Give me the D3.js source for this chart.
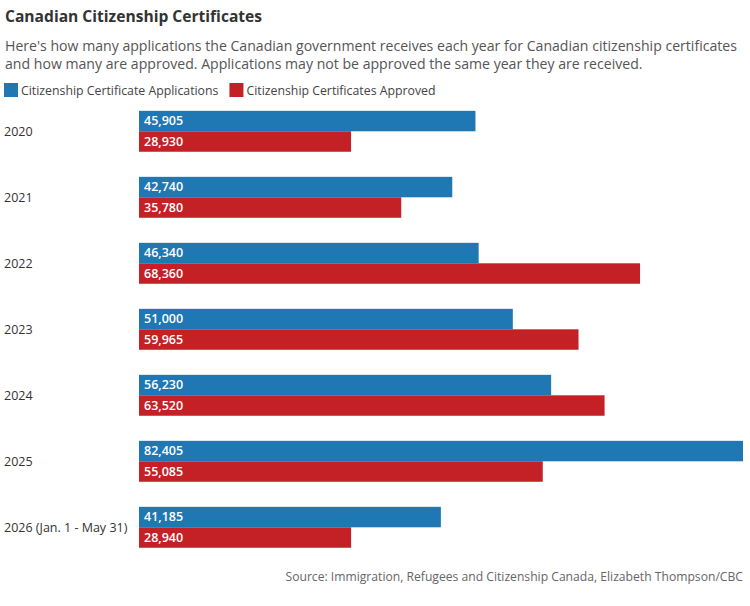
<!DOCTYPE html>
<html>
<head>
<meta charset="utf-8">
<script src="https://cdn.jsdelivr.net/npm/d3@7"></script>
<style>
  body { margin: 0; background: #fff; }
  text { font-family: "Open Sans", "Noto Sans", sans-serif; }
</style>
</head>
<body>
<svg id="chart" width="750" height="606"></svg>
<script>
// data
var years = ['2020', '2021', '2022', '2023', '2024', '2025', '2026 (Jan. 1 - May 31)'];
var applications = [45905, 42740, 46340, 51000, 56230, 82405, 41185];
var approved = [28930, 35780, 68360, 59965, 63520, 55085, 28940];
var seriesNames = ['Citizenship Certificate Applications', 'Citizenship Certificates Approved'];
var seriesColors = ['#1f77b4', '#c42127'];

var svg = d3.select('#chart');
var fmt = d3.format(',');

svg.append('text')
    .attr('x', 5).attr('y', 22)
    .attr('font-size', 15.6).attr('font-weight', 'bold').attr('fill', '#333')
    .text('Canadian Citizenship Certificates');

var sub = ['Here\'s how many applications the Canadian government receives each year for Canadian citizenship certificates',
  'and how many are approved. Applications may not be approved the same year they are received.'];
svg.selectAll('.sub').data(sub).enter().append('text')
    .attr('class', 'sub')
    .attr('x', 5).attr('y', function (d, i) { return 51 + i * 18; })
    .attr('font-size', 14.1).attr('fill', '#555')
    .text(function (d) { return d; });

// legend
var legend = svg.append('g').attr('transform', 'translate(4,83)');
var lx = 0;
seriesNames.forEach(function (name, i) {
  var g = legend.append('g').attr('transform', 'translate(' + lx + ',0)');
  g.append('rect').attr('width', 14).attr('height', 14).attr('fill', seriesColors[i]);
  var t = g.append('text').attr('x', 17).attr('y', 11.5)
      .attr('font-size', 12.3).attr('fill', '#444').text(name);
  lx += 17 + t.node().getComputedTextLength() + 11;
});

var x = d3.scaleLinear().domain([0, 82405]).range([139, 743]);
var y = d3.scaleBand().domain(years).range([98.3, 98.3 + 7 * 66])
    .paddingInner(0.38).paddingOuter(0.19);
var sy = d3.scaleBand().domain([0, 1]).range([0, y.bandwidth()]);

var rows = years.map(function (yr, i) {
  return { year: yr, values: [applications[i], approved[i]] };
});

var group = svg.selectAll('.grp').data(rows).enter().append('g')
    .attr('class', 'grp')
    .attr('transform', function (d) { return 'translate(0,' + y(d.year) + ')'; });

group.selectAll('rect').data(function (d) { return d.values; }).enter().append('rect')
    .attr('x', x(0))
    .attr('y', function (d, i) { return sy(i); })
    .attr('width', function (d) { return x(d) - x(0); })
    .attr('height', sy.bandwidth())
    .attr('fill', function (d, i) { return seriesColors[i]; });

group.selectAll('.val').data(function (d) { return d.values; }).enter().append('text')
    .attr('class', 'val')
    .attr('x', x(0) + 5)
    .attr('y', function (d, i) { return sy(i) + sy.bandwidth() / 2; })
    .attr('dy', '0.35em')
    .attr('font-size', 12.5).attr('font-weight', 600).attr('fill', '#fff')
    .text(function (d) { return fmt(d); });

group.append('text')
    .attr('x', 4).attr('y', y.bandwidth() / 2).attr('dy', '0.35em')
    .attr('font-size', 12.5).attr('fill', '#333')
    .text(function (d) { return d.year; });

svg.append('text')
    .attr('x', 743).attr('y', 581).attr('text-anchor', 'end')
    .attr('font-size', 12.15).attr('fill', '#666')
    .text('Source: Immigration, Refugees and Citizenship Canada, Elizabeth Thompson/CBC');
</script>
</body>
</html>
